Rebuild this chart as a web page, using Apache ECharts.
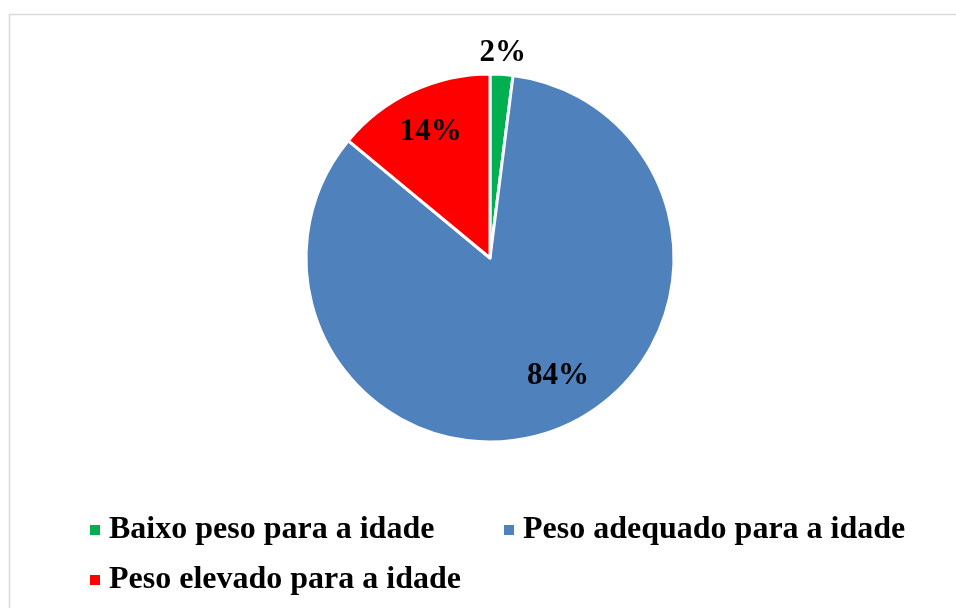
<!DOCTYPE html>
<html>
<head>
<meta charset="utf-8">
<script src="https://cdn.jsdelivr.net/npm/echarts@6/dist/echarts.min.js"></script>
<style>
  html, body { margin: 0; padding: 0; background: #fff; }
  #chart { width: 956px; height: 608px; }
</style>
</head>
<body>
<div id="chart"></div>
<script>
// dados do gráfico
const categorias = ['Baixo peso para a idade', 'Peso adequado para a idade', 'Peso elevado para a idade']
const valores = [2, 84, 14]
const cores = ['#00B050', '#4F81BD', '#FF0000']

const fonte = '"Liberation Serif", "Times New Roman", serif'
const pieData = categorias.map((nome, i) => ({ name: nome, value: valores[i], itemStyle: { color: cores[i] } }))

// series so para posicionar os rotulos (transparentes)
function labelSeries(radius, mostrar, startAngle) {
  return {
    type: 'pie',
    silent: true,
    center: [490, 258],
    radius: radius,
    startAngle: startAngle || 90,
    clockwise: true,
    avoidLabelOverlap: false,
    legendHoverLink: false,
    itemStyle: { color: 'transparent', borderWidth: 0 },
    emphasis: { disabled: true },
    labelLine: { show: false },
    data: categorias.map((nome, i) => ({
      name: nome,
      value: valores[i],
      label: { show: mostrar[i] }
    })),
    label: {
      position: 'inside',
      formatter: '{d}%',
      fontFamily: fonte,
      fontWeight: 'bold',
      fontSize: 31,
      color: '#000'
    }
  }
}

function legenda(nome, left, top) {
  return {
    data: [nome],
    left: left,
    top: top,
    padding: 0,
    orient: 'horizontal',
    icon: 'rect',
    itemWidth: 12,
    itemHeight: 12,
    selectedMode: false,
    textStyle: {
      fontFamily: fonte,
      fontWeight: 'bold',
      fontSize: 32,
      color: '#000',
      padding: [0, 0, 0, 3]
    }
  }
}

const chart = echarts.init(document.getElementById('chart'))
chart.setOption({
  backgroundColor: '#fff',
  animation: false,
  graphic: [{
    type: 'rect',
    left: 7,
    top: 12,
    shape: { width: 980, height: 700 },
    style: { fill: 'none', stroke: '#d9d9d9', lineWidth: 1.5 },
    silent: true
  }],
  legend: [
    legenda(categorias[0], 88, 514),
    legenda(categorias[1], 502, 514),
    legenda(categorias[2], 88, 564)
  ],
  series: [
    {
      type: 'pie',
      center: [490, 258],
      radius: [0, 184],
      startAngle: 90,
      clockwise: true,
      label: { show: false },
      labelLine: { show: false },
      itemStyle: { borderColor: '#fff', borderWidth: 3 },
      emphasis: { scale: false },
      data: pieData
    },
    labelSeries([187, 217], [true, false, false]),
    labelSeries([98, 174], [false, false, true]),
    labelSeries([96, 170], [false, true, false], 98.4)
  ]
})
</script>
</body>
</html>
